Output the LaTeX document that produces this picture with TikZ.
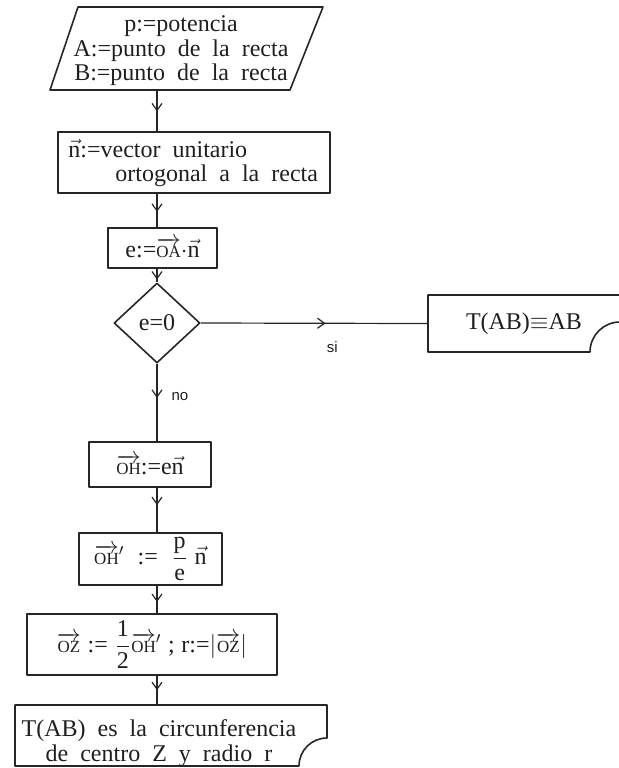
\documentclass[tikz,border=0pt]{standalone}
\usepackage{amsmath}
\usepackage{fontspec}
\setmainfont[WordSpace=2]{Liberation Serif}
\setsansfont{Liberation Sans}
\usetikzlibrary{shapes.geometric,decorations.markings,arrows.meta}

% small capitals under a long vector arrow, and the unit vector n
\newcommand{\vsm}[1]{\overrightarrow{\mbox{\fontsize{8.5}{9}\selectfont #1}}}
\newcommand{\vecn}{\vec{\mbox{n}}}

\begin{document}
\begin{tikzpicture}[x=0.5pt,y=-0.5pt,
  every node/.style={font=\fontsize{12}{12.25}\selectfont, text=black!88},
  edge/.style={draw=black!85, line width=0.8pt, line join=round},
  box/.style={edge, rectangle, inner sep=0pt},
  dia/.style={edge, diamond, inner sep=0pt, minimum width=43pt, minimum height=40pt},
  txt/.style={inner sep=0pt},
  lab/.style={inner sep=0pt, font=\sffamily\fontsize{7.5}{8}\selectfont},
  flow/.style={draw=black!85, line width=0.6pt, postaction={decorate},
    decoration={markings, mark=at position #1 with
      {\arrow{Straight Barb[length=3.5pt,width=5pt,line width=0.6pt]}}}},
  flow/.default=0.5]
\useasboundingbox (0,0) rectangle (618,768);
\coordinate (spine) at (157,0);

% data input
\draw[edge] (78,7) -- (323,7) -- (290,90) -- (50,90) -- cycle;
\node[txt, align=center] (par) at (181,51)
  {p:=potencia\\A:=punto de la recta\\B:=punto de la recta};
\coordinate (parout) at (157,90);

% unit normal
\node[box, minimum width=136pt, minimum height=30.5pt] (nbox) at (194,162.5) {};
\node[txt, anchor=base west] (nline1) at (68,157) {$\vecn$:=vector unitario};
\node[txt, anchor=base west] (nline2) at (115,181) {ortogonal a la recta};

% signed distance
\node[box, minimum width=54.5pt, minimum height=20pt] (ebox) at (162.5,248)
  {e:=$\vsm{OA}{\cdot}\vecn$};

% decision
\node[dia] (dec) at (157,323) {e=0};

% line through O
\node[txt, minimum width=96pt, minimum height=28.5pt] (tbox) at (524,323.5)
  {T(AB)$\equiv$AB};
\draw[edge] (622,295) -- (428,295) -- (428,352) -- (590,352)
  .. controls (590,335.4) and (603.4,322) .. (620,322);

% construction of the circle
\node[box, minimum width=61pt, minimum height=22.5pt] (ohbox) at (150,464.5)
  {$\vsm{OH}$:=e$\vecn$};
\node[box, minimum width=71.5pt, minimum height=26pt] (ohpbox) at (150.5,559)
  {$\vsm{OH}'\;\mathrel{\mbox{:=}}\;\dfrac{\mbox{p}}{\mbox{e}}\;\vecn$};
\node[box, minimum width=125pt, minimum height=30.5pt] (ozbox) at (152,644.5)
  {$\vsm{OZ}\;\mbox{:=}\;\dfrac{\mbox{1}}{\mbox{2}}\vsm{OH}'\;\mbox{;}\;\mbox{r:=}|\vsm{OZ}|$};

% result: circle
\node[txt, minimum width=156pt, minimum height=30.5pt] (fbox) at (171,735.5) {};
\draw[edge] (299,766) -- (15,766) -- (15,705) -- (327,705) -- (327,738)
  .. controls (311.5,738) and (299,750.5) .. (299,766);
\node[txt, align=center] (ftext) at (159,743)
  {T(AB) es la circunferencia\\de centro Z y radio r};

% connectors
\draw[flow=0.52] (parout) -- (nbox.north -| spine);
\draw[flow=0.54] (nbox.south -| spine) -- (ebox.north -| spine);
\draw[flow=0.8] (ebox.south -| spine) -- (dec.north);
\draw[flow=0.55] (dec.east) -- (tbox.west) node[lab, pos=0.58, yshift=-12pt] (si) {si};
\draw[flow=0.44] (dec.south) -- (ohbox.north -| spine)
  node[lab, pos=0.42, anchor=west, xshift=7pt] (no) {no};
\draw[flow=0.39] (ohbox.south -| spine) -- (ohpbox.north -| spine);
\draw[flow=0.59] (ohpbox.south -| spine) -- (ozbox.north -| spine);
\draw[flow=0.5] (ozbox.south -| spine) -- (fbox.north -| spine);
\end{tikzpicture}
\end{document}
